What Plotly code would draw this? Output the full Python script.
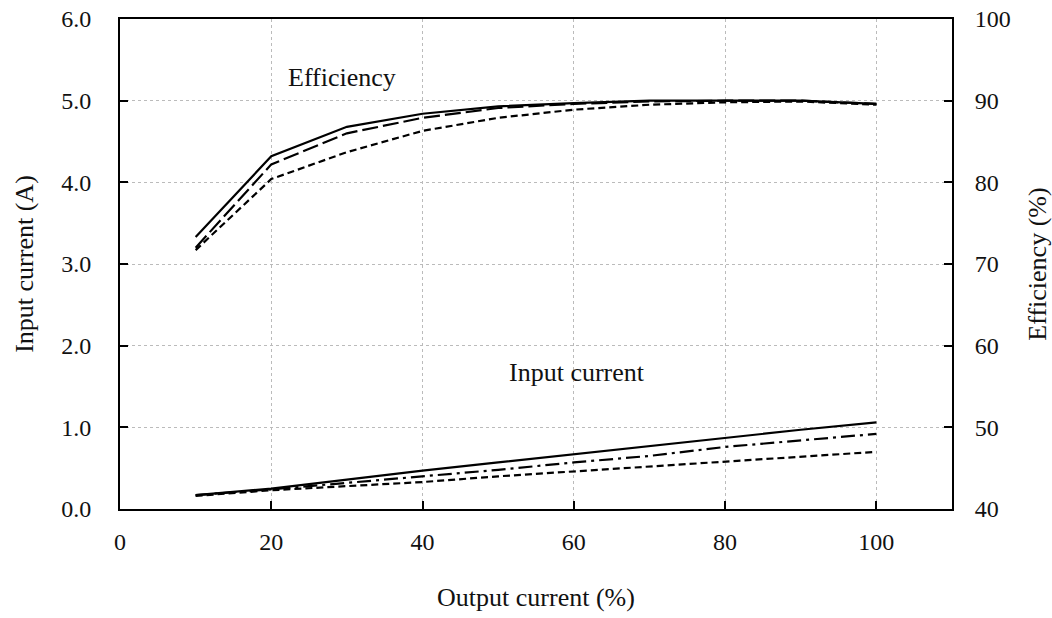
import plotly.graph_objects as go

x_pct = [10, 20, 30, 40, 50, 60, 70, 80, 90, 100]

eff_solid = [73.3, 83.2, 86.8, 88.4, 89.3, 89.7, 90.0, 90.0, 90.0, 89.6]
eff_dash = [72.0, 82.2, 86.0, 87.9, 89.1, 89.6, 89.9, 90.0, 90.0, 89.6]
eff_dot = [71.7, 80.4, 83.7, 86.3, 87.9, 88.9, 89.5, 89.8, 89.9, 89.5]

cur_solid = [0.17, 0.25, 0.36, 0.47, 0.57, 0.67, 0.77, 0.87, 0.97, 1.06]
cur_dashdot = [0.17, 0.24, 0.32, 0.40, 0.48, 0.57, 0.65, 0.76, 0.84, 0.92]
cur_dot = [0.16, 0.23, 0.28, 0.33, 0.40, 0.46, 0.52, 0.58, 0.64, 0.70]

x_ticks = [0, 20, 40, 60, 80, 100]
y_ticks = [0, 1, 2, 3, 4, 5, 6]
y_tick_text = ["0.0", "1.0", "2.0", "3.0", "4.0", "5.0", "6.0"]
y2_ticks = [40, 50, 60, 70, 80, 90, 100]

FONT = "Liberation Serif"
LW = 2.2

fig = go.Figure()

fig.add_trace(go.Scatter(x=x_pct, y=eff_solid, mode="lines", yaxis="y2",
                         line=dict(color="black", width=LW, dash="solid"), showlegend=False))
fig.add_trace(go.Scatter(x=x_pct, y=eff_dash, mode="lines", yaxis="y2",
                         line=dict(color="black", width=LW, dash="16px,5px"), showlegend=False))
fig.add_trace(go.Scatter(x=x_pct, y=eff_dot, mode="lines", yaxis="y2",
                         line=dict(color="black", width=LW, dash="7px,4px"), showlegend=False))

fig.add_trace(go.Scatter(x=x_pct, y=cur_solid, mode="lines",
                         line=dict(color="black", width=LW, dash="solid"), showlegend=False))
fig.add_trace(go.Scatter(x=x_pct, y=cur_dashdot, mode="lines",
                         line=dict(color="black", width=LW, dash="14px,5px,3px,5px"), showlegend=False))
fig.add_trace(go.Scatter(x=x_pct, y=cur_dot, mode="lines",
                         line=dict(color="black", width=LW, dash="7px,4px"), showlegend=False))

fig.add_annotation(x=29.4, y=5.28, xref="x", yref="y", text="Efficiency", showarrow=False,
                   font=dict(family=FONT, size=26, color="#111"))
fig.add_annotation(x=60.4, y=1.67, xref="x", yref="y", text="Input current", showarrow=False,
                   font=dict(family=FONT, size=26, color="#111"))

fig.update_layout(
    width=1052, height=618,
    margin=dict(l=120, r=100, t=19, b=109),
    paper_bgcolor="white", plot_bgcolor="white",
    font=dict(family=FONT, size=24, color="#111"),
    xaxis=dict(
        range=[0, 110], tickvals=x_ticks, ticktext=[str(v) for v in x_ticks],
        showline=True, linecolor="black", linewidth=2, mirror=True,
        ticks="inside", ticklen=8, tickwidth=1.5, tickcolor="black",
        showgrid=True, gridcolor="#bbbbbb", griddash="dot", gridwidth=1,
        zeroline=False, ticklabelstandoff=10, automargin=False,
        title=dict(text="Output current (%)", font=dict(family=FONT, size=26), standoff=34),
    ),
    yaxis=dict(
        range=[0, 6], tickvals=y_ticks, ticktext=y_tick_text,
        showline=True, linecolor="black", linewidth=2,
        ticks="inside", ticklen=8, tickwidth=1.5, tickcolor="black",
        showgrid=True, gridcolor="#bbbbbb", griddash="dot", gridwidth=1,
        zeroline=False, ticklabelstandoff=22, automargin=False,
        title=dict(text="Input current (A)", font=dict(family=FONT, size=26), standoff=20),
    ),
    yaxis2=dict(
        range=[40, 100], tickvals=y2_ticks, ticktext=[str(v) for v in y2_ticks],
        overlaying="y", side="right",
        showline=True, linecolor="black", linewidth=2,
        ticks="inside", ticklen=8, tickwidth=1.5, tickcolor="black",
        showgrid=False, zeroline=False, ticklabelstandoff=16, automargin=False,
        title=dict(text="Efficiency (%)", font=dict(family=FONT, size=26), standoff=20),
    ),
)

fig.write_html("out.html")
